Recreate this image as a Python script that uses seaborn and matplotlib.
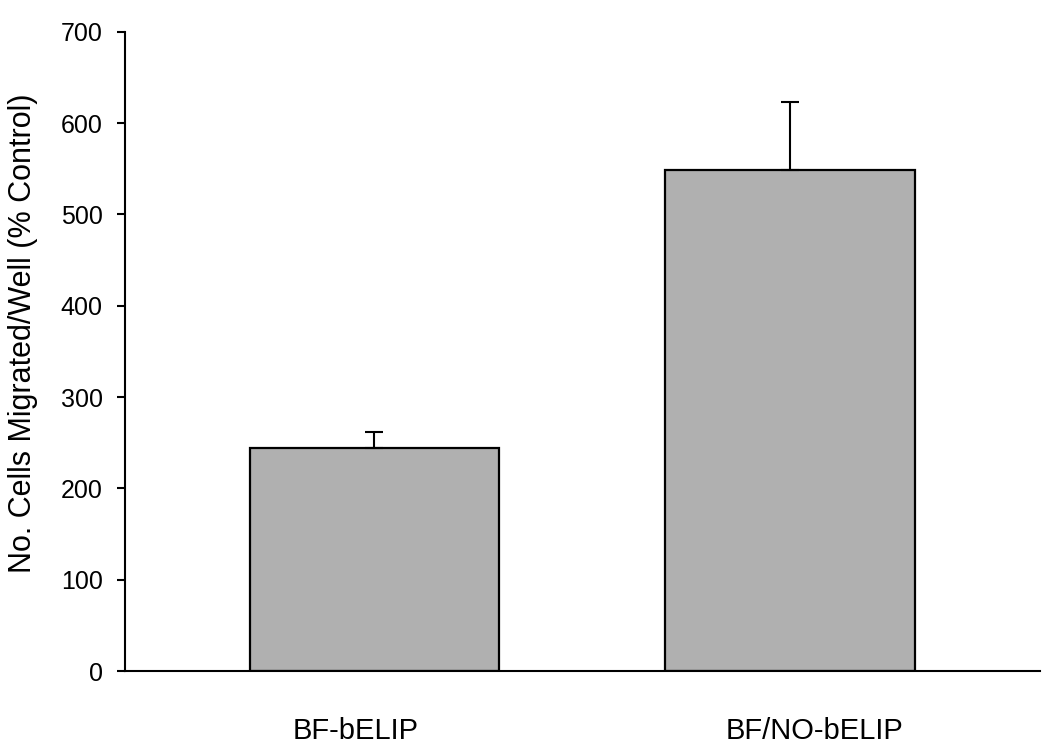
import pandas as pd
import numpy as np
import matplotlib
matplotlib.use('Agg')
import matplotlib.pyplot as plt
import matplotlib.transforms as mtransforms
import seaborn as sns

# data from the chart
groups = ['BF-bELIP', 'BF/NO-bELIP']
means = [244, 549]
sem_up = [18, 74]

df = pd.DataFrame({'Group': groups, 'Cells': means})

sns.set_style("white")
plt.rcParams['font.family'] = ['Liberation Sans', 'DejaVu Sans']
plt.rcParams['text.color'] = 'black'
plt.rcParams['axes.labelcolor'] = 'black'

fig, ax = plt.subplots(figsize=(10.5, 7.55), dpi=100)
fig.subplots_adjust(left=0.119, right=0.990, bottom=0.111, top=0.958)

sns.barplot(data=df, x='Group', y='Cells', color='#b0b0b0', saturation=1,
            width=0.6, edgecolor='black', linewidth=1.6, errorbar=None, ax=ax)

# upper error bars only
ax.errorbar(np.arange(len(groups)), means, yerr=[np.zeros(len(groups)), sem_up],
            fmt='none', ecolor='black', elinewidth=1.5, capsize=6.8, capthick=1.5)

ax.set_xlim(-0.6, 1.6)
ax.set_ylim(0, 700)
ax.set_yticks(range(0, 701, 100))
ax.set_xlabel('')
ax.set_ylabel('No. Cells Migrated/Well (% Control)', fontsize=22, color='black')
ax.yaxis.set_label_coords(-0.095, 0.529)

sns.despine(ax=ax)
for s in ['left', 'bottom']:
    ax.spines[s].set_linewidth(1.5)
    ax.spines[s].set_color('black')

ax.tick_params(axis='y', direction='out', length=6, width=1.5, left=True, labelsize=18, pad=10, colors='black')
ax.tick_params(axis='x', length=0, labelsize=21, pad=33, colors='black')

# category labels sit a bit wider apart than the bars in the original
for lab, dx in zip(ax.get_xticklabels(), [-19, 24]):
    lab.set_transform(lab.get_transform() + mtransforms.ScaledTranslation(dx / 100, 0, fig.dpi_scale_trans))

plt.savefig('out.png', dpi=100)
